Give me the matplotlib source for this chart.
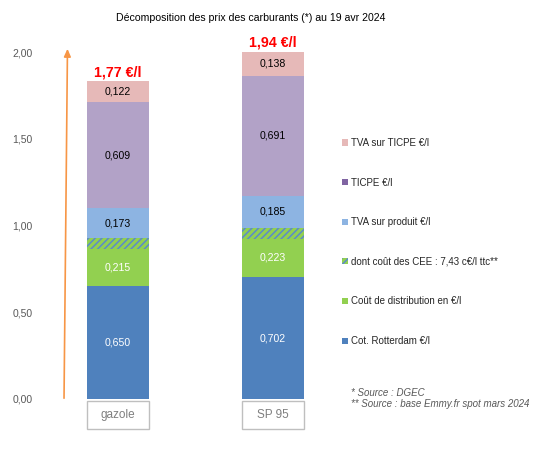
import matplotlib
matplotlib.use('Agg')
import matplotlib.pyplot as plt
from matplotlib.patches import Rectangle, Patch
import numpy as np

plt.rcParams['font.family'] = ['Liberation Sans', 'DejaVu Sans']
plt.rcParams['hatch.linewidth'] = 1.1

# Data (EUR per litre)
categories = ['gazole', 'SP 95']
rotterdam = [0.650, 0.702]
distribution = [0.215, 0.223]
cee = [0.062, 0.062]
tva_produit = [0.173, 0.185]
ticpe = [0.609, 0.691]
tva_ticpe = [0.122, 0.138]
totals = ['1,77 €/l', '1,94 €/l']

title = 'Décomposition des prix des carburants (*) au 19 avr 2024'
yticks = [0.0, 0.5, 1.0, 1.5, 2.0]
sources = ['* Source : DGEC', '** Source : base Emmy.fr spot mars 2024']

series = [
    ('Cot. Rotterdam €/l', rotterdam, '#4F81BD', 'white', True),
    ('Coût de distribution en €/l', distribution, '#92D050', 'white', True),
    ('dont coût des CEE : 7,43 c€/l ttc**', cee, '#92D050', None, False),
    ('TVA sur produit €/l', tva_produit, '#8DB4E2', 'black', True),
    ('TICPE €/l', ticpe, '#B2A2C7', 'black', True),
    ('TVA sur TICPE €/l', tva_ticpe, '#E6B9B8', 'black', True),
]
legend_colors = ['#4F81BD', '#92D050', '#92D050', '#8DB4E2', '#8064A2', '#E6B9B8']

fig = plt.figure(figsize=(5.49, 4.54), dpi=100)
ax = fig.add_axes([40.5 / 549, 1 - 399 / 454, 294.5 / 549, 347 / 454])

x = np.arange(len(categories))
w = 0.4
bottom = np.zeros(len(categories))
for label, vals, color, tcolor, show in series:
    vals = np.array(vals)
    if label.startswith('dont'):
        ax.bar(x, vals, w, bottom=bottom, color=color, edgecolor='#5B8BC9',
               linewidth=0, hatch='/////')
    else:
        ax.bar(x, vals, w, bottom=bottom, color=color, linewidth=0)
    if show:
        for xi, b, v in zip(x, bottom, vals):
            ax.text(xi, b + v / 2, f'{v:.3f}'.replace('.', ','), ha='center',
                    va='center', fontsize=7.6, color=tcolor)
    bottom = bottom + vals

for xi, top, t in zip(x, bottom, totals):
    ax.text(xi, top + 0.012, t, ha='center', va='bottom', fontsize=10.3,
            fontweight='bold', color='#FF0000')

# category boxes under the bars
for xi, cat in zip(x, categories):
    ax.add_patch(Rectangle((xi - w / 2, -0.173), w, 0.161, facecolor='white',
                           edgecolor='#BFBFBF', linewidth=1, clip_on=False))
    ax.text(xi, -0.093, cat, ha='center', va='center', fontsize=8.5,
            color='#7F7F7F')

ax.set_xlim(-0.5, 1.4)
ax.set_ylim(0, 2.0)
ax.set_yticks(yticks)
ax.set_yticklabels([f'{v:.2f}'.replace('.', ',') for v in yticks])
ax.tick_params(axis='y', length=0, pad=5.5, labelsize=7.5, labelcolor='#595959')
ax.set_xticks([])
for s in ax.spines.values():
    s.set_visible(False)

# orange arrow
ax.annotate('', xy=(67.5, 454 - 46), xytext=(64, 454 - 401),
            xycoords='figure pixels', textcoords='figure pixels',
            arrowprops=dict(arrowstyle='-|>,head_length=0.45,head_width=0.2',
                            color='#F79646', lw=1.2))

fig.text(251 / 549, 1 - 18 / 454, title, ha='center', va='center', fontsize=7.6)

# legend
handles = []
for (label, vals, color, tcolor, show), lc in zip(series, legend_colors):
    if label.startswith('dont'):
        handles.append(Patch(facecolor=lc, edgecolor='#5B8BC9', linewidth=0,
                             hatch='/////', label=label))
    else:
        handles.append(Patch(facecolor=lc, linewidth=0, label=label))
leg = fig.legend(handles[::-1], [h.get_label() for h in handles[::-1]],
                 loc='upper left', bbox_to_anchor=(337 / 549, 1 - 133 / 454),
                 frameon=False, fontsize=7, labelspacing=3.05,
                 handlelength=0.6, handleheight=0.6, handletextpad=0.3,
                 borderpad=0)
for t in leg.get_texts():
    t.set_color('#262626')

fig.text(351 / 549, 1 - 393 / 454, sources[0], ha='left', va='center',
         fontsize=7, style='italic', color='#595959')
fig.text(351 / 549, 1 - 404 / 454, sources[1], ha='left', va='center',
         fontsize=7, style='italic', color='#595959')

fig.savefig('out.png', dpi=100)
